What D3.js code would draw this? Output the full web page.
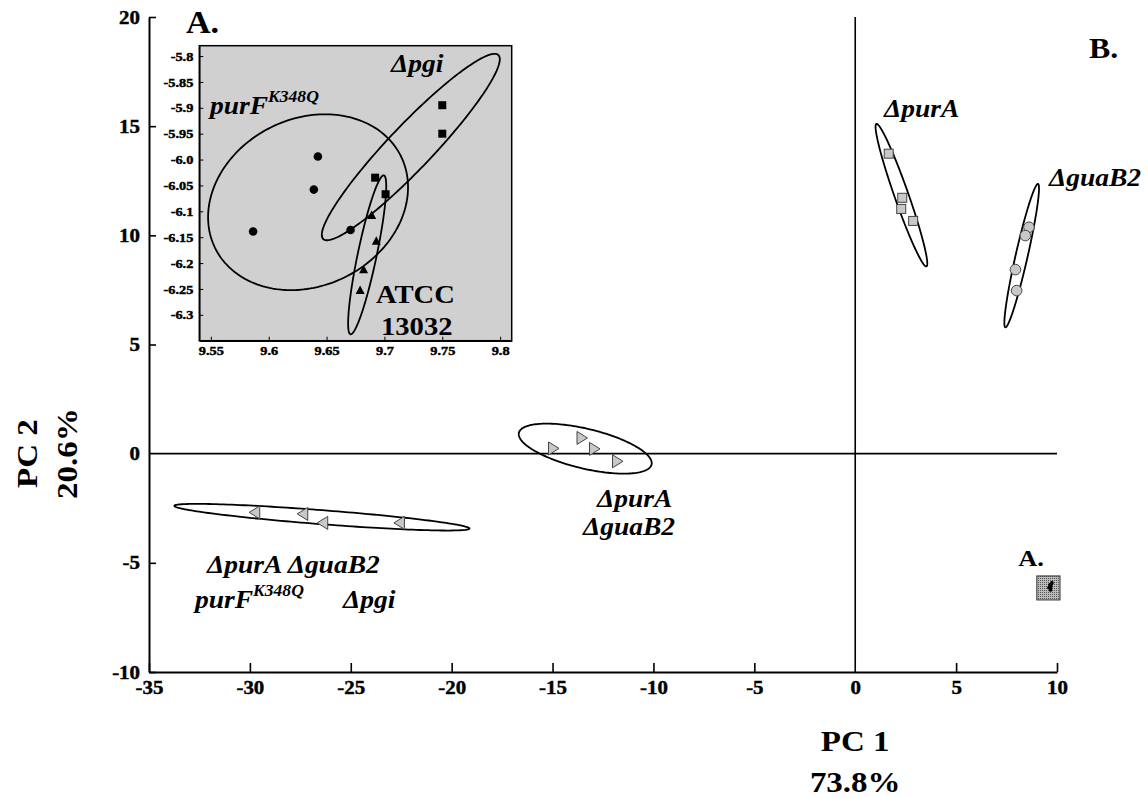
<!DOCTYPE html>
<html>
<head>
<meta charset="utf-8">
<script src="https://cdn.jsdelivr.net/npm/d3@7"></script>
<style>
  html, body { margin: 0; padding: 0; background: #fff; }
  svg { display: block; }
  text { font-family: "Liberation Serif", "Times New Roman", serif; font-weight: bold; fill: #000; }
</style>
</head>
<body>
<svg id="chart" width="1148" height="798"></svg>
<script>
// ---- main PCA plot data (PC1, PC2) ----
const xTicks = [-35, -30, -25, -20, -15, -10, -5, 0, 5, 10];
const yTicks = [-10, -5, 0, 5, 10, 15, 20];

const purA      = [[1.66, 13.74], [2.33, 11.72], [2.28, 11.21], [2.87, 10.66]];
const guaB2     = [[8.61, 10.37], [8.43, 9.99], [7.94, 8.43], [8.00, 7.47]];
const purAguaB2 = [[-15.0, 0.24], [-13.59, 0.72], [-12.97, 0.22], [-11.83, -0.35]];
const quad      = [[-29.71, -2.69], [-27.33, -2.76], [-26.34, -3.17], [-22.54, -3.17]];

// ---- zoomed region A (PC1, PC2) ----
const insetXTicks = [9.55, 9.6, 9.65, 9.7, 9.75, 9.8];
const insetXLabels = ["9.55", "9.6", "9.65", "9.7", "9.75", "9.8"];
const insetYTicks = [-5.8, -5.85, -5.9, -5.95, -6.0, -6.05, -6.1, -6.15, -6.2, -6.25, -6.3];
const insetYLabels = ["-5.8", "-5.85", "-5.9", "-5.95", "-6.0", "-6.05", "-6.1", "-6.15", "-6.2", "-6.25", "-6.3"];

const purF = [[9.5865, -6.139], [9.6425, -5.994], [9.639, -6.058], [9.6707, -6.136]];
const pgi  = [[9.75, -5.895], [9.75, -5.95], [9.692, -6.035], [9.701, -6.067]];
const atcc = [[9.689, -6.108], [9.693, -6.158], [9.682, -6.213], [9.679, -6.253]];

// confidence ellipses: [cx, cy, ux, uy, vx, vy] (centre + conjugate semi-axes, data units)
const ellPurA      = [2.29, 11.84, -1.239, 3.262, 0.327, 0.106];
const ellGuaB2     = [8.25, 9.07, 0.808, 3.284, 0.290, -0.061];
const ellPurAGuaB2 = [-13.38, 0.23, 3.287, -0.7266, -0.229, -0.886];
const ellQuad      = [-26.43, -2.91, 7.313, -0.520, -0.0266, -0.320];

const ellPurF = [9.634, -6.0824, 0.0805, 0.0878, 0.0314, -0.1454];
const ellPgi  = [9.7228, -5.9758, 0.0757, 0.1777, 0.0137, -0.0295];
const ellAtcc = [9.6851, -6.1841, 0.0144, 0.1535, 0.0080, -0.0038];

// extent of region A as marked on the main plot
const regionA = [[9.0, 10.15], [-5.6, -6.7]];

const svg = d3.select("#chart");
const SX = 1.1; // horizontal stretch applied to all lettering

const x = d3.scaleLinear().domain([-35, 10]).range([149, 1057]);
const y = d3.scaleLinear().domain([-10, 20]).range([672, 17]);

function ellipsePath(e, sx, sy) {
  const [cx, cy, ux, uy, vx, vy] = e;
  const pts = d3.range(0, 2 * Math.PI, Math.PI / 90).map(t => [
    sx(cx + Math.cos(t) * ux + Math.sin(t) * vx),
    sy(cy + Math.cos(t) * uy + Math.sin(t) * vy)
  ]);
  return d3.line().curve(d3.curveLinearClosed)(pts);
}

function styleAxis(g, fontSize, domainW, tickW) {
  g.attr("font-family", null).attr("font-size", null);
  g.select(".domain").attr("stroke", "#000").attr("stroke-width", domainW);
  g.selectAll(".tick line").attr("stroke", "#000").attr("stroke-width", tickW);
  g.selectAll(".tick text")
    .attr("font-size", fontSize)
    .attr("font-weight", "bold")
    .attr("fill", "#000")
    .attr("stroke", "#000")
    .attr("stroke-width", 0.45)
    .each(function () {
      const t = d3.select(this);
      const tx = +t.attr("x") || 0, ty = +t.attr("y") || 0;
      t.attr("x", null).attr("y", null).attr("transform", `translate(${tx},${ty}) scale(${SX},1)`);
    });
}

// ---- axes of main plot ----
const gx = svg.append("g").attr("transform", `translate(0,${y(-10)})`)
  .call(d3.axisBottom(x).tickValues(xTicks).tickSize(-9).tickSizeOuter(0).tickPadding(9).tickFormat(d => String(d)));
const gy = svg.append("g").attr("transform", `translate(${x(-35)},0)`)
  .call(d3.axisLeft(y).tickValues(yTicks).tickSize(-7).tickSizeOuter(0).tickPadding(9).tickFormat(d => String(d)));
styleAxis(gx, 19, 2, 1.6);
styleAxis(gy, 19, 2, 1.6);
gx.selectAll(".tick").filter(d => d === 0).select("line").remove();
gy.selectAll(".tick").filter(d => d === 0).select("line").remove();

// zero lines
svg.append("line").attr("x1", x(-35)).attr("x2", x(10)).attr("y1", y(0)).attr("y2", y(0))
  .attr("stroke", "#000").attr("stroke-width", 1.6);
svg.append("line").attr("x1", x(0)).attr("x2", x(0)).attr("y1", y(-10)).attr("y2", y(20))
  .attr("stroke", "#000").attr("stroke-width", 1.6);

function lab(tx, ty, str, size, italic, anchor) {
  return svg.append("text").attr("transform", `translate(${tx},${ty}) scale(${SX},1)`)
    .attr("font-size", size).attr("text-anchor", anchor || "start")
    .attr("font-style", italic ? "italic" : "normal").text(str);
}

// axis titles
lab(x(0), 751, "PC 1", 30, false, "middle");
lab(x(0), 792, "73.8%", 30, false, "middle");
svg.append("text").attr("transform", `translate(37,${y(0)}) rotate(-90) scale(${SX},1)`).attr("text-anchor", "middle").attr("font-size", 30).text("PC 2");
svg.append("text").attr("transform", `translate(77,${y(0)}) rotate(-90) scale(${SX},1)`).attr("text-anchor", "middle").attr("font-size", 30).text("20.6%");

// ---- ellipses on main plot ----
[ellPurA, ellGuaB2, ellPurAGuaB2, ellQuad].forEach(e => {
  svg.append("path").attr("d", ellipsePath(e, x, y)).attr("fill", "none").attr("stroke", "#000").attr("stroke-width", 1.8);
});

// markers
const grey = "#c8c8c8";
svg.append("g").selectAll("rect").data(purA).join("rect")
  .attr("x", d => x(d[0]) - 4.5).attr("y", d => y(d[1]) - 4.5).attr("width", 9).attr("height", 9)
  .attr("fill", grey).attr("stroke", "#444").attr("stroke-width", 1);
svg.append("g").selectAll("circle").data(guaB2).join("circle")
  .attr("cx", d => x(d[0])).attr("cy", d => y(d[1])).attr("r", 5.3)
  .attr("fill", grey).attr("stroke", "#444").attr("stroke-width", 1);
const triRight = "M-4,-6.5L6.5,0L-4,6.5Z";
const triLeft = "M4,-6.5L-6.5,0L4,6.5Z";
svg.append("g").selectAll("path").data(purAguaB2).join("path")
  .attr("transform", d => `translate(${x(d[0])},${y(d[1])})`).attr("d", triRight)
  .attr("fill", grey).attr("stroke", "#444").attr("stroke-width", 1);
svg.append("g").selectAll("path").data(quad).join("path")
  .attr("transform", d => `translate(${x(d[0])},${y(d[1])})`).attr("d", triLeft)
  .attr("fill", grey).attr("stroke", "#444").attr("stroke-width", 1);

// region A marker on main plot (hatched box with the four strains' points)
const defs = svg.append("defs");
const pat = defs.append("pattern").attr("id", "hatch").attr("width", 2).attr("height", 2).attr("patternUnits", "userSpaceOnUse");
pat.append("rect").attr("width", 2).attr("height", 2).attr("fill", "#bbb");
pat.append("rect").attr("width", 1).attr("height", 1).attr("fill", "#555");
svg.append("rect")
  .attr("x", x(regionA[0][0])).attr("y", y(regionA[1][0]))
  .attr("width", x(regionA[0][1]) - x(regionA[0][0])).attr("height", y(regionA[1][1]) - y(regionA[1][0]))
  .attr("fill", "url(#hatch)").attr("stroke", "#333").attr("stroke-width", 1);
svg.append("g").selectAll("circle").data(purF.concat(pgi, atcc)).join("circle")
  .attr("cx", d => x(d[0])).attr("cy", d => y(d[1])).attr("r", 1.6).attr("fill", "#000");
lab(1031, 566, "A.", 24, false, "middle");

// ---- group labels on main plot ----
lab(884, 117, "ΔpurA", 25, true);
lab(1049, 186, "ΔguaB2", 25, true);
lab(1089, 58, "B.", 29, false);
lab(597, 507, "ΔpurA", 25, true);
lab(583, 535, "ΔguaB2", 25, true);
lab(207, 573, "ΔpurA ΔguaB2", 25, true);
const pf = lab(195, 608, "purF", 25, true);
pf.append("tspan").attr("dy", -12).attr("font-size", 16).text("K348Q");
lab(343, 608, "Δpgi", 25, true);

// ---- inset: region A enlarged ----
const xi = d3.scaleLinear().domain([9.54, 9.81]).range([199.3, 511.7]);
const yi = d3.scaleLinear().domain([-6.35, -5.78]).range([340.7, 45.7]);

svg.append("rect").attr("x", 199.3).attr("y", 45.7).attr("width", 312.4).attr("height", 295)
  .attr("fill", "#d0d0d0").attr("stroke", "#000").attr("stroke-width", 1.5);

const ix = svg.append("g").attr("transform", `translate(0,${yi.range()[0]})`)
  .call(d3.axisBottom(xi).tickValues(insetXTicks).tickSize(-4).tickSizeOuter(0).tickPadding(5)
    .tickFormat((d, i) => insetXLabels[i]));
const iy = svg.append("g").attr("transform", `translate(${xi.range()[0]},0)`)
  .call(d3.axisLeft(yi).tickValues(insetYTicks).tickSize(-4).tickSizeOuter(0).tickPadding(6)
    .tickFormat((d, i) => insetYLabels[i]));
styleAxis(ix, 13, 1.5, 1);
styleAxis(iy, 13, 1.5, 1);

[ellPurF, ellPgi, ellAtcc].forEach(e => {
  svg.append("path").attr("d", ellipsePath(e, xi, yi)).attr("fill", "none").attr("stroke", "#000").attr("stroke-width", 1.8);
});

svg.append("g").selectAll("circle").data(purF).join("circle")
  .attr("cx", d => xi(d[0])).attr("cy", d => yi(d[1])).attr("r", 4.3).attr("fill", "#000");
svg.append("g").selectAll("rect").data(pgi).join("rect")
  .attr("x", d => xi(d[0]) - 4).attr("y", d => yi(d[1]) - 4).attr("width", 8).attr("height", 8).attr("fill", "#000");
svg.append("g").selectAll("path").data(atcc).join("path")
  .attr("transform", d => `translate(${xi(d[0])},${yi(d[1])})`).attr("d", "M0,-5L4.5,3.5L-4.5,3.5Z").attr("fill", "#000");

lab(186, 33, "A.", 31, false);
lab(391, 72, "Δpgi", 25, true);
const pf2 = lab(210, 114, "purF", 25, true);
pf2.append("tspan").attr("dy", -12).attr("font-size", 16).text("K348Q");
lab(376, 303, "ATCC", 26, false);
lab(381, 335, "13032", 26, false);
</script>
</body>
</html>
